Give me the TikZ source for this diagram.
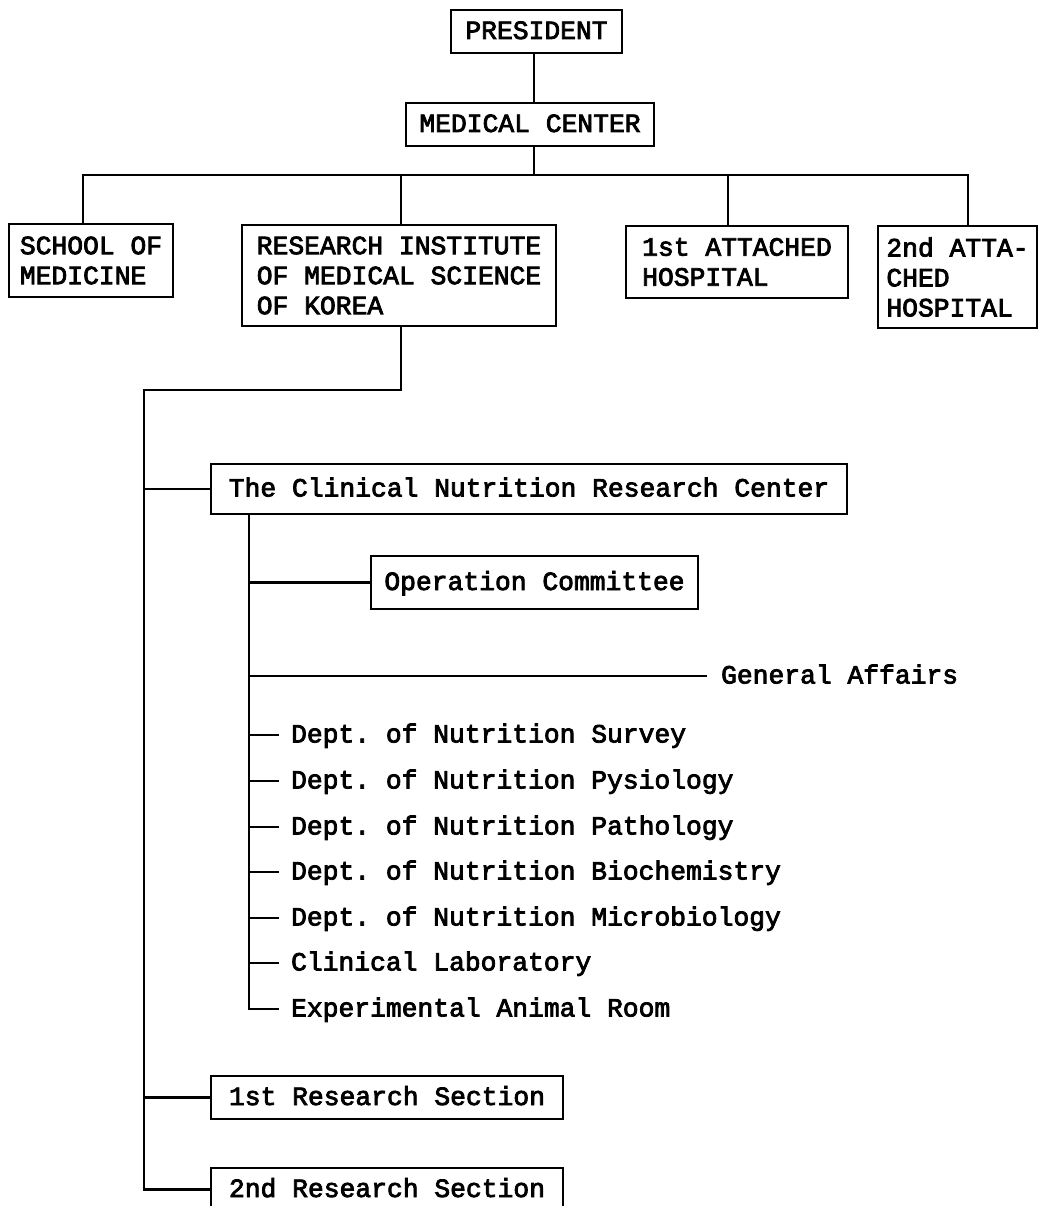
\documentclass[tikz,border=0pt]{standalone}
\usepackage{fontspec}
\newfontfamily\tw[FakeBold=3,WordSpace={1,0,0},PunctuationSpace=1]{Liberation Mono}
\frenchspacing
\begin{document}
\frenchspacing
\begin{tikzpicture}[x=1pt,y=-1pt,line width=2.2pt,
  box/.style={draw,line width=2.2pt,inner sep=0pt,align=left,font=\tw\frenchspacing\fontsize{26.33}{30}\selectfont},
  one/.style={text height=15pt,text depth=0pt},
  lbl/.style={anchor=west,inner ysep=0pt,font=\tw\frenchspacing\fontsize{26.33}{30}\selectfont,one}]
\useasboundingbox (0,0) rectangle (1039,1206);
\clip (0,0) rectangle (1039,1206);
% boxes
\node[box,one,minimum width=171pt,minimum height=43pt] (pres) at (536.5,31.5) {PRESIDENT};
\node[box,one,minimum width=248pt,minimum height=43pt] (mc) at (530,124.5) {MEDICAL CENTER};
\node[box,minimum width=164pt,minimum height=73pt] (school) at (91,260.5) {SCHOOL OF\\MEDICINE};
\node[box,minimum width=314pt,minimum height=101pt] (ri) at (399,275.5) {RESEARCH INSTITUTE\\OF MEDICAL SCIENCE\\OF KOREA};
\node[box,minimum width=222pt,minimum height=72pt] (h1) at (737,262) {1st ATTACHED\\HOSPITAL};
\node[box,minimum width=159pt,minimum height=102pt] (h2) at (957.5,277) {2nd ATTA-\\CHED\\HOSPITAL};
\node[box,one,minimum width=636pt,minimum height=50pt] (cnrc) at (529,489) {The Clinical Nutrition Research Center};
\node[box,one,minimum width=327pt,minimum height=53pt] (oc) at (534.5,582.5) {Operation Committee};
\node[box,one,minimum width=352pt,minimum height=43pt] (rs1) at (387,1097.5) {1st Research Section};
\node[box,one,minimum width=352pt,minimum height=43pt] (rs2) at (387,1189.5) {2nd Research Section};
% plain labels
\node[lbl,inner xsep=13pt] (ga) at (707,676) {General Affairs};
\node[lbl,inner xsep=11pt] (d1) at (279,735) {Dept. of Nutrition Survey};
\node[lbl,inner xsep=11pt] (d2) at (279,781) {Dept. of Nutrition Pysiology};
\node[lbl,inner xsep=11pt] (d3) at (279,827) {Dept. of Nutrition Pathology};
\node[lbl,inner xsep=11pt] (d4) at (279,872) {Dept. of Nutrition Biochemistry};
\node[lbl,inner xsep=11pt] (d5) at (279,918) {Dept. of Nutrition Microbiology};
\node[lbl,inner xsep=11pt] (d6) at (279,963) {Clinical Laboratory};
\node[lbl,inner xsep=11pt] (d7) at (279,1009) {Experimental Animal Room};
% helper coordinates
\coordinate (bus) at (0,175);
\coordinate (lt) at (144,390);
\coordinate (t) at ([xshift=-280pt]cnrc.south);
% connectors
\draw ([xshift=-2.5pt]pres.south) -- ([xshift=4pt]mc.north);
\draw ([xshift=4pt]mc.south) -- ([xshift=4pt]mc.south |- bus);
\draw ([xshift=-8pt]school.north) -- ([xshift=-8pt]school.north |- bus) -- ([xshift=10.5pt]h2.north |- bus) -- ([xshift=10.5pt]h2.north);
\draw ([xshift=2pt]ri.north) -- ([xshift=2pt]ri.north |- bus);
\draw ([xshift=-9pt]h1.north) -- ([xshift=-9pt]h1.north |- bus);
\draw ([xshift=2pt]ri.south) |- (lt) |- (rs2.west);
\draw (cnrc.west) -- (cnrc.west -| lt);
\draw (rs1.west) -- (rs1.west -| lt);
\draw (t) |- (d7.west);
\draw (oc.west) -- (oc.west -| t);
\draw (ga.west) -- (ga.west -| t);
\foreach \n in {d1,d2,d3,d4,d5,d6} {\draw (\n.west) -- (\n.west -| t);}
\end{tikzpicture}
\end{document}
